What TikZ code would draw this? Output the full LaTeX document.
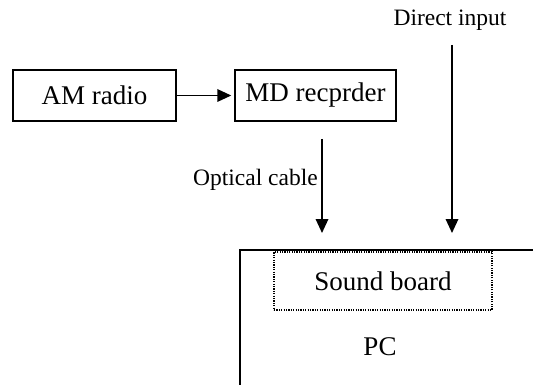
\documentclass[tikz,border=0pt]{standalone}
\usepackage{fontspec}
\setmainfont{Liberation Serif}
\usetikzlibrary{arrows.meta}
\begin{document}
\begin{tikzpicture}[x=1pt,y=-1pt,
  box/.style={draw,line width=1.4pt,minimum height=51pt,inner sep=0pt,font=\fontsize{27}{30}\selectfont},
  lbl/.style={inner sep=0pt,font=\fontsize{23.5}{26}\selectfont},
  arr/.style={line width=1.8pt,-{Triangle[length=14pt,width=12.5pt]}}]
\useasboundingbox (0,0) rectangle (533,385);
\node[box,minimum width=163pt] (am) at (94.5,95.5) {AM radio};
\node[box,minimum width=161pt] (md) at (315.5,95.5) {MD recprder};
\draw[arr] (am.east) -- ([xshift=-3pt]md.west);
\coordinate (os) at (322,139);
\coordinate (oe) at (322,233);
\coordinate (ds) at (452,45);
\coordinate (de) at (452,233);
\draw[arr] (os) -- (oe);
\draw[arr] (ds) -- (de);
\node[lbl,anchor=east] (ol) at (318,180) {Optical cable};
\node[lbl] (dl) at (450,20) {Direct input};
\coordinate (pcb) at (240,386);
\coordinate (pct) at (240,250);
\coordinate (pcr) at (534,250);
\draw[line width=1.5pt] (pcb) -- (pct) -- (pcr);
\node[draw,line width=1.2pt,dash pattern=on 1.2pt off 1.2pt,minimum width=218pt,minimum height=58pt,inner sep=0pt,font=\fontsize{27}{30}\selectfont] (sb) at (383,281) {Sound board};
\node[inner sep=0pt,font=\fontsize{27}{30}\selectfont] (pc) at (380,347) {PC};
\end{tikzpicture}
\end{document}
